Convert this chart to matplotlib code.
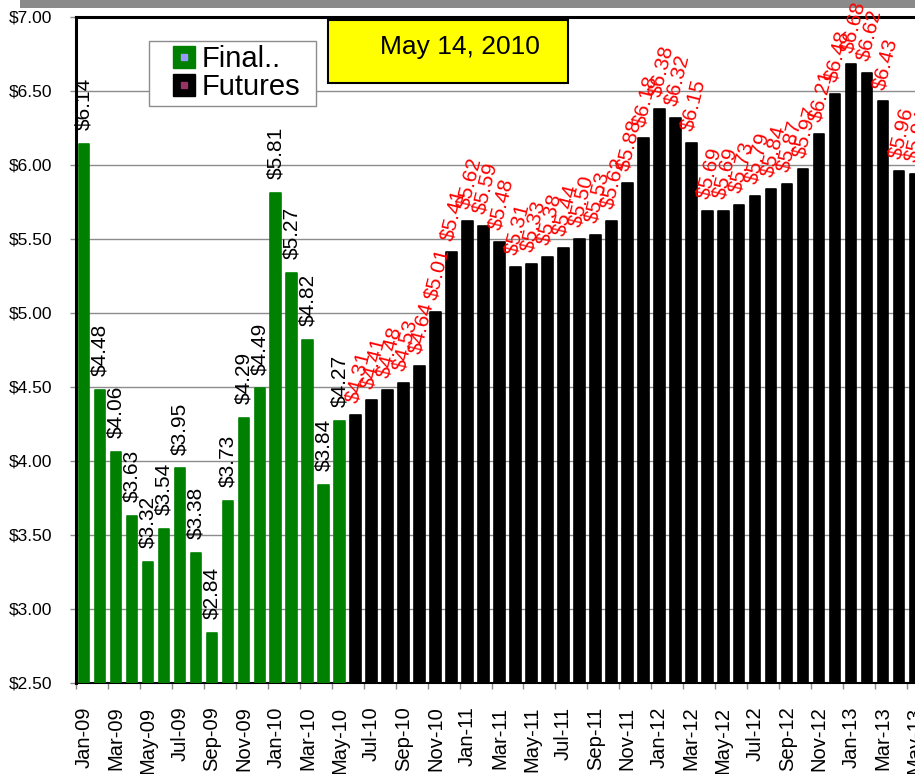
import numpy as np
import matplotlib
matplotlib.use("Agg")
import matplotlib.pyplot as plt
from matplotlib.lines import Line2D
from matplotlib.patches import Rectangle
from matplotlib.legend_handler import HandlerTuple

plt.rcParams['font.family'] = ['Liberation Sans', 'DejaVu Sans']

# ---- data ----
mon = ["Jan", "Feb", "Mar", "Apr", "May", "Jun", "Jul", "Aug", "Sep", "Oct", "Nov", "Dec"]
years = ["09", "10", "11", "12", "13"]
months = [f"{m}-{y}" for y in years for m in mon][:53]   # Jan-09 .. May-13

final_vals = [6.14, 4.48, 4.06, 3.63, 3.32, 3.54, 3.95, 3.38, 2.84, 3.73,
              4.29, 4.49, 5.81, 5.27, 4.82, 3.84, 4.27]          # Jan-09 .. May-10
futures_vals = [4.31, 4.41, 4.48, 4.53, 4.64, 5.01, 5.41,           # Jun-10 .. Dec-10
                5.62, 5.59, 5.48, 5.31, 5.33, 5.38, 5.44, 5.50, 5.53, 5.62, 5.88, 6.18,
                6.38, 6.32, 6.15, 5.69, 5.69, 5.73, 5.79, 5.84, 5.87, 5.97, 6.21, 6.48,
                6.68, 6.62, 6.43, 5.96, 5.94]                         # .. May-13
series_names = ["Final..", "Futures"]
date_text = "May 14, 2010"
yticks = [2.5, 3.0, 3.5, 4.0, 4.5, 5.0, 5.5, 6.0, 6.5, 7.0]

W, H = 915, 774
fig = plt.figure(figsize=(W / 100, H / 100), dpi=100)
fig.patch.set_facecolor("white")

# grey band at top
fig.add_artist(Rectangle((20 / W, 1 - 8 / H), (W - 20) / W, 8 / H,
                         transform=fig.transFigure, facecolor="#8a8a8a",
                         edgecolor="none", zorder=0))

left_px, right_px, top_px, bot_px = 76, 923, 17, 683
ax = fig.add_axes([left_px / W, 1 - bot_px / H, (right_px - left_px) / W, (bot_px - top_px) / H])

n = len(months)
x = np.arange(n)
gx = x[:len(final_vals)]
bx = x[len(final_vals):len(final_vals) + len(futures_vals)]

ax.bar(gx, final_vals, width=0.66, color="#008000", edgecolor="#008000",
       linewidth=1.2, joinstyle="round", zorder=3)
ax.bar(bx, futures_vals, width=0.66, color="black", edgecolor="black",
       linewidth=1.2, joinstyle="round", zorder=3)

ax.set_xlim(-0.5, n - 0.5)
ax.set_ylim(2.5, 7.0)

# grid
ax.set_yticks(yticks)
ax.set_yticklabels([f"${v:.2f}" for v in yticks])
ax.yaxis.grid(True, color="#8c8c8c", linewidth=1.0)
ax.set_axisbelow(True)

# x ticks: labels at centres every 2 months, tick marks at boundaries
ax.set_xticks(x[::2])
ax.set_xticklabels(months[::2], rotation=90, fontsize=14.5)
ax.set_xticks(np.arange(-0.5, n, 2), minor=True)
ax.tick_params(axis="x", which="major", length=0, pad=17)
ax.tick_params(axis="x", which="minor", length=4, color="#8c8c8c", width=1)
ax.tick_params(axis="y", length=4, color="#8c8c8c", width=1, pad=13, labelsize=12.5)

for s in ["top", "left"]:
    ax.spines[s].set_linewidth(2.2)
    ax.spines[s].set_color("black")
ax.spines["bottom"].set_linewidth(1.5)
ax.spines["right"].set_visible(False)

# data labels
for xi, v in zip(gx, final_vals):
    ax.annotate(f"${v:.2f}", (xi, v), xytext=(0, 10), textcoords="offset points",
                rotation=90, ha="center", va="bottom", fontsize=15, color="black",
                annotation_clip=False, zorder=6)
for xi, v in zip(bx, futures_vals):
    ax.annotate(f"${v:.2f}", (xi, v), xytext=(-3, 9), textcoords="offset points",
                rotation=76, rotation_mode="anchor", ha="left", va="center",
                fontsize=15, color="red", annotation_clip=False, zorder=6)

# legend frame (drawn separately so it can match the reference box)
fig.add_artist(Rectangle((149 / W, 1 - 106 / H), (316 - 149) / W, (106 - 41) / H,
                         transform=fig.transFigure, facecolor="white",
                         edgecolor="#8c8c8c", linewidth=1.0, zorder=9))
h1 = (Line2D([], [], marker="s", ls="", markersize=16, markerfacecolor="#008000",
             markeredgecolor="#008000"),
      Line2D([], [], marker="s", ls="", markersize=5, markerfacecolor="#9999ff",
             markeredgecolor="#9999ff"))
h2 = (Line2D([], [], marker="s", ls="", markersize=16, markerfacecolor="black",
             markeredgecolor="black"),
      Line2D([], [], marker="s", ls="", markersize=5, markerfacecolor="#993366",
             markeredgecolor="#993366"))
leg = fig.legend([h1, h2], series_names, handler_map={tuple: HandlerTuple(ndivide=1)},
                 loc="upper left", bbox_to_anchor=(171 / W, 1 - 45 / H),
                 fontsize=21, frameon=False, borderpad=0, labelspacing=0.0,
                 handlelength=0.9, handletextpad=0.15, borderaxespad=0)
leg.set_zorder(11)

# yellow date box
fig.add_artist(Rectangle((328 / W, 1 - 83 / H), (568 - 328) / W, (83 - 20) / H,
                         transform=fig.transFigure, facecolor="#ffff00",
                         edgecolor="black", linewidth=1.5, zorder=20))
fig.text(460 / W, 1 - 47 / H, date_text, ha="center", va="center", fontsize=19,
         color="black", zorder=21)

fig.savefig("out.png", dpi=100)
